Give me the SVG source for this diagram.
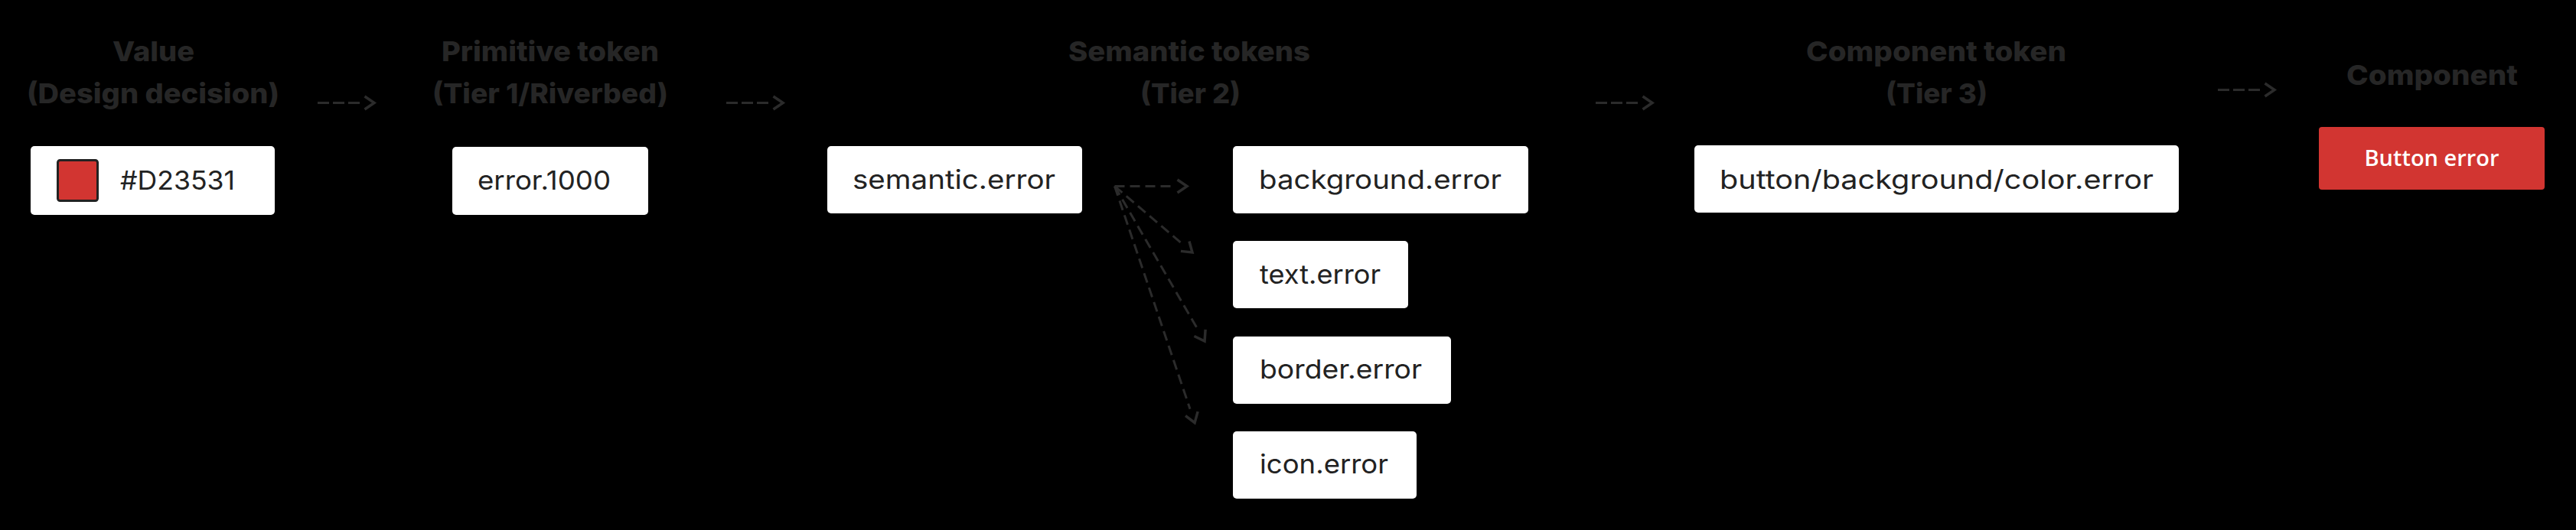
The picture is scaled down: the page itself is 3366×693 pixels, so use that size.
<svg xmlns="http://www.w3.org/2000/svg" width="3366" height="693" viewBox="0 0 3366 693">
  <style>
    .hdr { font-family: Inter, "Liberation Sans", sans-serif; font-weight: 800; font-size: 36px; fill: #262626; }
    .box { fill: #ffffff; }
    .lbl { font-family: Inter, "Liberation Sans", sans-serif; font-weight: 400; font-size: 34px; fill: #222222; }
    .btn { fill: #D23531; }
    .btntxt { font-family: "Open Sans", "Liberation Sans", sans-serif; font-weight: 600; font-size: 29px; fill: #ffffff; }
    .conn { fill: none; stroke: #2b2b2b; stroke-width: 3; }
    .hconn { stroke-dasharray: 15 5; }
    .fconn { stroke-dasharray: 13 7; }
  </style>
  <defs>
    <marker id="chev" markerUnits="userSpaceOnUse" orient="auto" refX="-19" refY="0" markerWidth="40" markerHeight="40" overflow="visible">
      <path d="M-12.5,-8.5 L0,0 L-12.5,8.5" fill="none" stroke="#2b2b2b" stroke-width="3.5" stroke-linejoin="miter"/>
    </marker>
  </defs>
  <rect x="0" y="0" width="3366" height="693" fill="#000000"/>

  <g id="headers">
    <text class="hdr" x="147" y="80" textLength="107" lengthAdjust="spacingAndGlyphs">Value</text>
    <text class="hdr" x="35" y="135" textLength="330" lengthAdjust="spacingAndGlyphs">(Design decision)</text>
    <text class="hdr" x="577" y="80" textLength="284" lengthAdjust="spacingAndGlyphs">Primitive token</text>
    <text class="hdr" x="565" y="135" textLength="308" lengthAdjust="spacingAndGlyphs">(Tier 1/Riverbed)</text>
    <text class="hdr" x="1396" y="80" textLength="316" lengthAdjust="spacingAndGlyphs">Semantic tokens</text>
    <text class="hdr" x="1490" y="135" textLength="131" lengthAdjust="spacingAndGlyphs">(Tier 2)</text>
    <text class="hdr" x="2360" y="80" textLength="340" lengthAdjust="spacingAndGlyphs">Component token</text>
    <text class="hdr" x="2464" y="135" textLength="133" lengthAdjust="spacingAndGlyphs">(Tier 3)</text>
    <text class="hdr" x="3066" y="110.5" textLength="224" lengthAdjust="spacingAndGlyphs">Component</text>
  </g>

  <g id="connectors">
    <line class="conn hconn" x1="415" y1="134.5" x2="470" y2="134.5" marker-end="url(#chev)"/>
    <line class="conn hconn" x1="949" y1="134.5" x2="1004" y2="134.5" marker-end="url(#chev)"/>
    <line class="conn hconn" x1="2085" y1="134.5" x2="2140" y2="134.5" marker-end="url(#chev)"/>
    <line class="conn hconn" x1="2898" y1="117.5" x2="2953" y2="117.5" marker-end="url(#chev)"/>
    <line class="conn fconn" x1="1456.5" y1="243.5" x2="1532" y2="243.5" marker-end="url(#chev)"/>
    <line class="conn fconn" x1="1456.5" y1="243.5" x2="1543.5" y2="317.7" marker-end="url(#chev)"/>
    <line class="conn fconn" x1="1456.5" y1="243.5" x2="1564.5" y2="429.6" marker-end="url(#chev)"/>
    <line class="conn fconn" x1="1456.5" y1="243.5" x2="1555" y2="534.7" marker-end="url(#chev)"/>
  </g>

  <g id="node-value">
    <rect class="box" x="40" y="191" width="319" height="90" rx="5"/>
    <rect x="75.5" y="209.5" width="52" height="53" rx="3" fill="#D23531" stroke="#222222" stroke-width="3"/>
    <text class="lbl" x="157" y="248" textLength="150" lengthAdjust="spacingAndGlyphs">#D23531</text>
  </g>
  <g id="node-primitive">
    <rect class="box" x="591" y="192" width="256" height="89" rx="5"/>
    <text class="lbl" x="624" y="248" textLength="174" lengthAdjust="spacingAndGlyphs">error.1000</text>
  </g>
  <g id="node-semantic">
    <rect class="box" x="1081" y="191" width="333" height="88" rx="5"/>
    <text class="lbl" x="1114" y="247" textLength="265" lengthAdjust="spacingAndGlyphs">semantic.error</text>
  </g>
  <g id="node-background">
    <rect class="box" x="1611" y="191" width="386" height="88" rx="5"/>
    <text class="lbl" x="1645" y="247" textLength="317" lengthAdjust="spacingAndGlyphs">background.error</text>
  </g>
  <g id="node-text">
    <rect class="box" x="1611" y="315" width="229" height="88" rx="5"/>
    <text class="lbl" x="1646" y="371" textLength="158" lengthAdjust="spacingAndGlyphs">text.error</text>
  </g>
  <g id="node-border">
    <rect class="box" x="1611" y="440" width="285" height="88" rx="5"/>
    <text class="lbl" x="1646" y="495" textLength="212" lengthAdjust="spacingAndGlyphs">border.error</text>
  </g>
  <g id="node-icon">
    <rect class="box" x="1611" y="564" width="240" height="88" rx="5"/>
    <text class="lbl" x="1646" y="619" textLength="168" lengthAdjust="spacingAndGlyphs">icon.error</text>
  </g>
  <g id="node-component-token">
    <rect class="box" x="2214" y="190" width="633" height="88" rx="5"/>
    <text class="lbl" x="2247" y="247" textLength="567" lengthAdjust="spacingAndGlyphs">button/background/color.error</text>
  </g>
  <g id="node-component">
    <rect class="btn" x="3030" y="166" width="295" height="82" rx="4"/>
    <text class="btntxt" x="3177.5" y="217" text-anchor="middle">Button error</text>
  </g>
</svg>
